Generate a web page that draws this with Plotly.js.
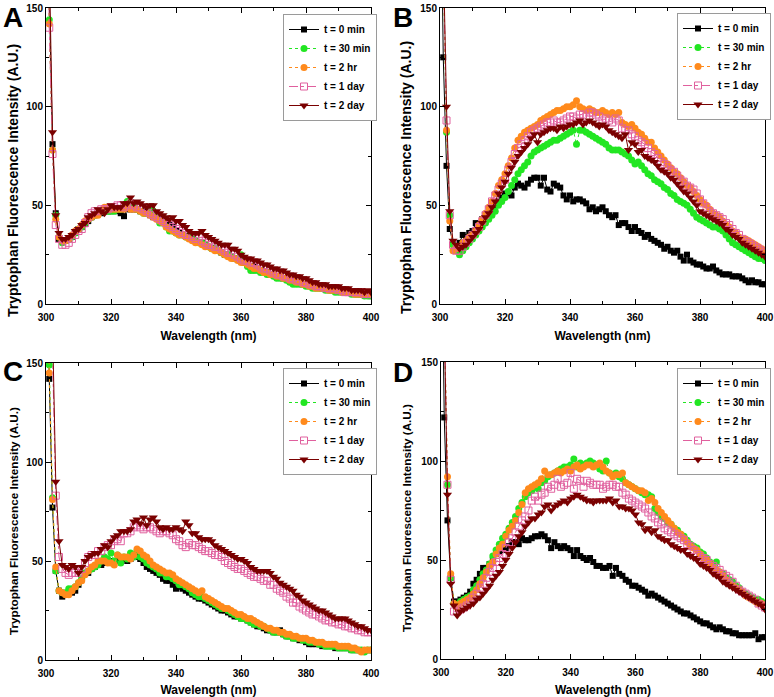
<!DOCTYPE html>
<html>
<head>
<meta charset="utf-8">
<script src="https://cdn.plot.ly/plotly-3.0.1.min.js"></script>
<style>html,body{margin:0;padding:0;background:#fff;}#chart{width:774px;height:697px;}</style>
</head>
<body>
<div id="chart"></div>
<script>
// ---------- DATA ----------
const wavelength = [
 300,301,302,303,304,305,306,307,308,309,
 310,311,312,313,314,315,316,317,318,319,
 320,321,322,323,324,325,326,327,328,329,
 330,331,332,333,334,335,336,337,338,339,
 340,341,342,343,344,345,346,347,348,349,
 350,351,352,353,354,355,356,357,358,359,
 360,361,362,363,364,365,366,367,368,369,
 370,371,372,373,374,375,376,377,378,379,
 380,381,382,383,384,385,386,387,388,389,
 390,391,392,393,394,395,396,397,398,399,
 400];

const seriesNames = ["t = 0 min", "t = 30 min", "t = 2 hr", "t = 1 day", "t = 2 day"];
const panelLetters = ["A", "B", "C", "D"];
const xTitle = "Wavelength (nm)";
const yTitle = "Tryptophan Fluorescence Intensity (A.U.)";

// Panel A
const A_t0 = [
 260,158,81,46,33,32,32,33,34,36,
 38,39,40.5,42,44,45,45.5,46,47,47,
 47,47.5,47,46,44.5,48,48,48,48,47,
 47,46,45,44,44,43,42,41,40,39,
 37,36.5,35,34.5,34,33,32,31,31,30,
 29,28.5,28,27,26,25,25,24,23,22.5,
 22,21,20,19,19,18,17,16.5,16,15,
 15,14,14,13,13,12,12,11,11,10,
 10,9.5,9,9,8.5,8,8,7.5,7,7,
 7,6.5,6,6,6,5.5,5,5,5,5,
 4];
const A_t30 = [
 260,144,78,45,34,31,32,33,34,36,
 38,39,41,43,44,45,46,47,48,47,
 47,47,48,48,49,52,50,49,48,47,
 46,46,48,47,44,41,41,39,37,37,
 36,35,35,34,34,33,32,31,31,30,
 29,28,28,27,26,25,25,24,23,23,
 25,21,19,17,17,17,16,16,15,15,
 14,13,13,13,12,11,10,10,10,10,
 9,9,8,8,8,8,7,7,7,6,
 6,6,6,6,5,5,5,5,4,4,
 4];
const A_t2h = [
 260,142,78,43,34,32,32,33,35,37,
 38,40,42,43,44,45,45,47,49,49,
 48,48,48,48,48,49,48,48,48,47,
 46,46,45,44,43,42,41,39,38,37,
 36,35,35,34,33,32,31,31,30,29,
 29,28,27,27,26,25,24,23,23,22,
 21,21,20,19,18,18,17,16,16,15,
 15,14,14,13,13,12,12,11,11,10,
 10,9,9,8,8,8,8,7,7,7,
 7,6,6,6,6,5,5,5,5,5,
 5];
const A_t1d = [
 260,140,76,40,33,30,30,31,33,35,
 37,38,41,44,46,47,47,48,48,48,
 49,49,50,50,49,50,51,50,49,49,
 48,47,46,45,44,43,42,41,40,39,
 38,37,36,35,35,34,33,34,32,31,
 30,30,29,29,28,27,26,26,25,24,
 23,22,22,21,21,20,19,18,18,17,
 16,15,15,14,14,13,13,12,12,11,
 11,10,10,9,9,9,8,8,8,8,
 7,7,6,6,6,6,6,6,5,5,
 5];
const A_t2d = [
 260,170,87,45,36,33,33,34,35,37,
 38,40,41,44,45,46,48,47,46,48,
 50,49,49,49,51,51,54,51,52,51,
 50,49,50,50,47,46,45,44,43,44,
 42,42,40,39,37,36,36,36,37,35,
 34,33,32,31,30,30,30,28,28,27,
 25,24,23,23,22,22,21,20,20,19,
 18,18,17,17,16,15,15,14,14,13,
 13,12,11,11,10,10,10,9,9,9,
 9,8,8,8,7,7,7,7,6,7,
 6];

// Panel B
const B_t0 = [
 250,125,70,38,31,29,31,35,34,36,
 37,41,40,43,45,46,48,50,52,54,
 56,56,55,59,61,60,59,61,63,64,
 64,60,64,58,57,61,60,59,55,53,
 55,52,53,53,52,51,48,49,47,48,
 49,47,45,44,45,40,41,41,39,37,
 39,37,36,34,35,33,32,31,30,28,
 29,27,26,27,24,22,25,22,21,20,
 20,19,18,18,19,17,16,15,15,15,
 14,14,14,13,12,11,12,11,11,10,
 10];
const B_t30 = [
 260,175,87,45,30,27,25,27,29,31,
 33,35,37,39,41,43,45,47,50,52,
 54,57,60,63,66,68,70,72,75,77,
 78,79,80,81,82,83,83,84,85,86,
 87,88,81,88,88,87,86,85,84,83,
 82,81,79,78,78,78,77,76,75,73,
 71,72,70,68,66,65,63,62,61,59,
 58,56,55,53,52,51,50,48,46,44,
 43,42,41,40,39,39,38,37,35,33,
 31,30,29,28,27,26,25,24,23,23,
 22];
const B_t2h = [
 260,180,88,42,27,28,29,31,32,34,
 35,37,40,43,46,49,52,56,60,63,
 66,70,74,79,83,85,87,88,89,90,
 91,93,94,95,96,97,98,98,99,100,
 100,101,103,100,99,98,99,98,97,97,
 98,97,96,97,96,97,92,91,90,91,
 89,87,86,84,82,82,79,77,75,73,
 71,69,67,66,64,62,60,59,57,55,
 53,51,50,48,46,45,44,42,40,39,
 37,36,34,33,33,32,31,30,29,28,
 27];
const B_t1d = [
 260,175,93,45,30,27,27,29,31,33,
 35,37,39,42,45,48,52,55,58,61,
 63,68,72,76,79,81,83,85,87,88,
 89,90,91,92,92,93,92,92,93,94,
 95,95,94,96,96,95,97,97,96,95,
 93,94,93,92,94,93,89,88,88,86,
 85,83,82,81,79,77,76,74,72,71,
 70,68,67,65,63,62,60,59,58,56,
 53,51,49,47,46,45,44,43,41,40,
 38,36,35,33,32,31,30,29,28,27,
 26];
const B_t2d = [
 260,180,100,47,32,30,28,29,30,32,
 34,36,38,41,44,46,49,52,56,59,
 62,66,69,72,75,77,79,81,84,86,
 82,86,87,88,89,89,88,90,89,90,
 91,91,92,93,91,92,93,92,91,90,
 91,90,88,87,86,85,84,86,78,82,
 81,77,78,75,74,73,72,70,68,67,
 66,64,63,61,59,57,56,54,52,50,
 47,46,45,44,43,42,41,40,38,37,
 35,34,33,31,30,29,28,27,26,25,
 24];

// Panel C
const C_t0 = [
 260,142,77,45,35,32,33,34,34,35,
 38,41,44,44,46,47,48,48,49,49,
 50,50,50,50,51,50,51,52,52,51,
 49,47,46,45,44,43,41,40,40,38,
 36,37,36,35,34,33,32,31,31,30,
 29,28,27,26,25,25,24,23,22,22,
 21,21,20,19,18,17,17,16,15,15,
 14,14,15,13,12,12,11,11,10,10,
 9,8,8,8,8,7,7,7,7,6,
 6,6,6,6,5,5,5,5,5,5,
 5];
const C_t30 = [
 260,149,82,45,35,34,34,36,36,37,
 39,41,44,45,46,47,48,50,52,51,
 54,50,53,49,52,51,54,52,55,52,
 51,49,48,47,46,44,44,42,42,41,
 40,38,38,37,36,34,33,32,32,31,
 30,29,28,27,26,26,25,24,23,22,
 21,21,20,19,18,18,17,17,16,15,
 14,14,14,13,12,12,11,11,11,10,
 10,9,9,9,8,8,7,7,7,7,
 6,6,6,6,5,5,5,5,4,5,
 5];
const C_t2h = [
 260,145,81,47,35,34,33,33,35,37,
 39,40,43,45,47,48,50,50,50,49,
 49,48,53,52,52,52,51,53,56,55,
 53,52,50,48,47,46,45,44,44,43,
 41,40,39,38,37,36,35,34,35,32,
 31,30,29,28,27,26,26,25,24,23,
 23,22,21,21,20,19,18,17,16,16,
 15,15,14,14,13,13,12,12,11,11,
 11,10,10,9,9,9,8,8,8,8,
 7,7,7,7,6,6,5,4,5,5,
 5];
const C_t1d = [
 300,250,155,83,52,46,44,43,44,44,
 44,46,49,52,53,53,55,55,57,58,
 58,60,61,60,64,64,65,67,68,67,
 66,67,67,66,65,64,65,65,64,63,
 61,60,58,57,59,58,58,57,56,55,
 55,54,53,53,52,50,49,48,47,46,
 46,45,44,43,42,42,41,40,40,38,
 38,36,35,34,32,31,29,29,27,26,
 25,24,23,23,22,21,20,20,19,19,
 18,18,17,17,16,16,15,15,14,14,
 14];
const C_t2d = [
 300,260,170,90,60,48,47,46,48,47,
 44,47,50,52,53,54,54,56,58,57,
 60,62,63,65,65,65,66,70,71,69,
 72,68,71,72,70,67,66,67,66,66,
 67,66,65,70,68,64,64,62,61,61,
 61,60,58,57,56,55,54,53,52,51,
 51,50,49,47,46,45,45,45,45,44,
 42,41,39,38,37,36,35,33,32,30,
 29,28,27,26,25,25,24,23,22,21,
 21,21,21,20,19,18,17,17,16,15,
 15];

// Panel D
const D_t0 = [
 250,122,70,41,29,29,30,31,32,34,
 38,40,43,46,46,48,50,53,54,55,
 56,57,59,59,58,61,60,60,61,62,
 62,63,62,60,56,59,57,56,57,56,
 55,52,55,52,51,50,51,49,47,47,
 46,46,47,42,46,43,42,40,39,37,
 37,36,35,34,32,33,32,31,30,29,
 28,27,26,25,24,23,23,22,21,20,
 19,18,18,17,16,15,16,15,14,14,
 13,13,12,12,12,12,12,13,10,11,
 11];
const D_t30 = [
 260,175,88,41,28,27,29,30,31,32,
 35,37,40,43,45,48,52,55,58,61,
 63,66,69,72,76,79,82,84,85,87,
 86,89,90,92,93,94,95,96,97,97,
 98,101,97,99,98,99,100,99,98,96,
 95,100,94,93,94,92,91,89,88,87,
 86,85,84,83,83,82,76,74,72,71,
 69,68,66,65,63,62,60,58,57,56,
 54,53,51,49,46,49,44,43,41,40,
 39,37,36,34,33,32,31,30,30,29,
 28];
const D_t2h = [
 260,180,92,43,28,26,28,29,30,31,
 33,35,38,41,44,47,49,53,56,58,
 62,65,67,70,74,78,84,86,87,88,
 89,91,95,93,93,94,95,94,95,96,
 95,97,98,96,97,98,98,97,98,99,
 97,95,94,92,93,93,94,89,88,87,
 86,85,85,84,80,81,79,76,74,72,
 70,68,66,64,63,61,59,57,56,55,
 53,51,50,48,46,45,44,42,40,38,
 37,36,35,34,32,31,30,29,28,28,
 27];
const D_t1d = [
 260,170,88,40,24,24,25,26,27,29,
 31,33,36,38,41,44,46,49,51,53,
 56,59,61,64,67,70,72,75,80,82,
 80,83,84,87,86,88,91,87,88,89,
 94,86,91,90,87,90,89,88,88,88,
 86,87,88,88,87,87,84,83,81,80,
 79,78,77,76,74,72,71,69,68,66,
 65,64,63,62,61,60,58,57,55,53,
 52,51,50,48,47,46,45,43,42,41,
 39,37,35,34,33,32,31,30,28,27,
 26];
const D_t2d = [
 260,160,83,38,27,22,24,25,26,27,
 28,30,31,33,35,37,40,42,44,47,
 50,53,56,59,62,64,67,69,71,71,
 73,74,77,78,75,77,78,79,80,79,
 81,82,83,82,81,80,80,79,80,80,
 80,80,81,79,80,77,77,76,76,75,
 73,69,68,65,66,64,65,62,61,60,
 60,58,57,56,55,55,53,52,51,50,
 48,47,46,45,43,42,41,39,38,37,
 36,35,34,33,32,31,30,29,28,27,
 25];

// ---------- STYLE ----------
const FONT = "Liberation Sans, Arial, Helvetica, sans-serif";
const W = 774, H = 697;
const styles = [
  {color: "#000000", symbol: "square", size: 6, dash: "solid", lineColor: "#000000"},
  {color: "#22e622", symbol: "circle", size: 7, dash: "dot", lineColor: "#22e622"},
  {color: "#ff8a1c", symbol: "circle", size: 7, dash: "dot", lineColor: "#ff8a1c"},
  {color: "#e0609e", symbol: "square-open", size: 7, dash: "dashdot", lineColor: "#e0609e"},
  {color: "#7a0000", symbol: "triangle-down", size: 8, dash: "solid", lineColor: "#7a0000"}
];

// pixel boxes of each panel (plot area, legend corner, letter corner, y-title centre and size)
const panels = [
  {series: [A_t0, A_t30, A_t2h, A_t1d, A_t2d], px: [46, 371], py: [8, 304], leg: [283, 14], letter: [1, 0], yt: [13, 181, 14]},
  {series: [B_t0, B_t30, B_t2h, B_t1d, B_t2d], px: [440, 765], py: [8, 304], leg: [677, 13], letter: [391, 0], yt: [406, 178, 14]},
  {series: [C_t0, C_t30, C_t2h, C_t1d, C_t2d], px: [46, 371], py: [363, 660], leg: [283, 368], letter: [1, 354], yt: [13, 521, 11.7]},
  {series: [D_t0, D_t30, D_t2h, D_t1d, D_t2d], px: [441, 765], py: [362, 659], leg: [677, 368], letter: [391, 355], yt: [406, 518, 11.7]}
];

const traces = [];
const layout = {
  width: W, height: H,
  margin: {l: 0, r: 0, t: 0, b: 0},
  paper_bgcolor: "#ffffff", plot_bgcolor: "#ffffff",
  font: {family: FONT, color: "#000"},
  annotations: [],
  showlegend: true
};

panels.forEach((p, i) => {
  const n = i + 1;
  const xk = n === 1 ? "xaxis" : "xaxis" + n;
  const yk = n === 1 ? "yaxis" : "yaxis" + n;
  const lk = n === 1 ? "legend" : "legend" + n;
  p.series.forEach((vals, s) => {
    const st = styles[s];
    traces.push({
      type: "scatter", mode: "lines+markers",
      x: wavelength, y: vals,
      name: seriesNames[s],
      xaxis: n === 1 ? "x" : "x" + n,
      yaxis: n === 1 ? "y" : "y" + n,
      legend: lk,
      line: {color: st.lineColor, width: 1, dash: st.dash},
      marker: {symbol: st.symbol, size: st.size, color: st.color,
               line: {color: st.color, width: st.symbol === "square-open" ? 1 : 0}}
    });
  });
  const common = {
    showline: true, linecolor: "#000", linewidth: 1, mirror: "ticks",
    ticks: "inside", ticklen: 5, tickwidth: 1, tickcolor: "#000",
    showgrid: false, zeroline: false, fixedrange: true,
    tickfont: {family: FONT, size: 10, color: "#000", weight: "bold"}
  };
  layout[xk] = Object.assign({}, common, {
    domain: [p.px[0] / W, p.px[1] / W],
    anchor: n === 1 ? "y" : "y" + n,
    range: [300, 400], tick0: 300, dtick: 20,
    ticklabelstandoff: 4,
    minor: {ticks: "inside", dtick: 10, ticklen: 3, tickcolor: "#000", showgrid: false},
    title: {text: xTitle, font: {family: FONT, size: 12, weight: "bold", color: "#000"}, standoff: 9}
  });
  layout[yk] = Object.assign({}, common, {
    domain: [1 - p.py[1] / H, 1 - p.py[0] / H],
    anchor: n === 1 ? "x" : "x" + n,
    range: [0, 150], tick0: 0, dtick: 50,
    minor: {ticks: "inside", dtick: 25, ticklen: 3, tickcolor: "#000", showgrid: false}
  });
  layout[lk] = {
    x: p.leg[0] / W, y: 1 - p.leg[1] / H, xanchor: "left", yanchor: "top",
    xref: "paper", yref: "paper",
    bgcolor: "#ffffff", bordercolor: "#9a9a9a", borderwidth: 1,
    font: {family: FONT, size: 10, weight: "bold", color: "#000"},
    itemwidth: 30, tracegroupgap: 0
  };
  // y-axis title (placed as in the reference, slightly below the axis centre)
  layout.annotations.push({
    text: yTitle, xref: "paper", yref: "paper", textangle: -90,
    x: p.yt[0] / W, y: 1 - p.yt[1] / H, xanchor: "center", yanchor: "middle",
    showarrow: false, font: {family: FONT, size: p.yt[2], weight: "bold", color: "#000"}
  });
  // panel letter
  layout.annotations.push({
    text: panelLetters[i], xref: "paper", yref: "paper",
    x: p.letter[0] / W, y: 1 - p.letter[1] / H, xanchor: "left", yanchor: "top",
    showarrow: false, font: {family: FONT, size: 28, weight: "bold", color: "#000"}
  });
});

Plotly.newPlot("chart", traces, layout, {displayModeBar: false, staticPlot: true});
</script>
</body>
</html>
